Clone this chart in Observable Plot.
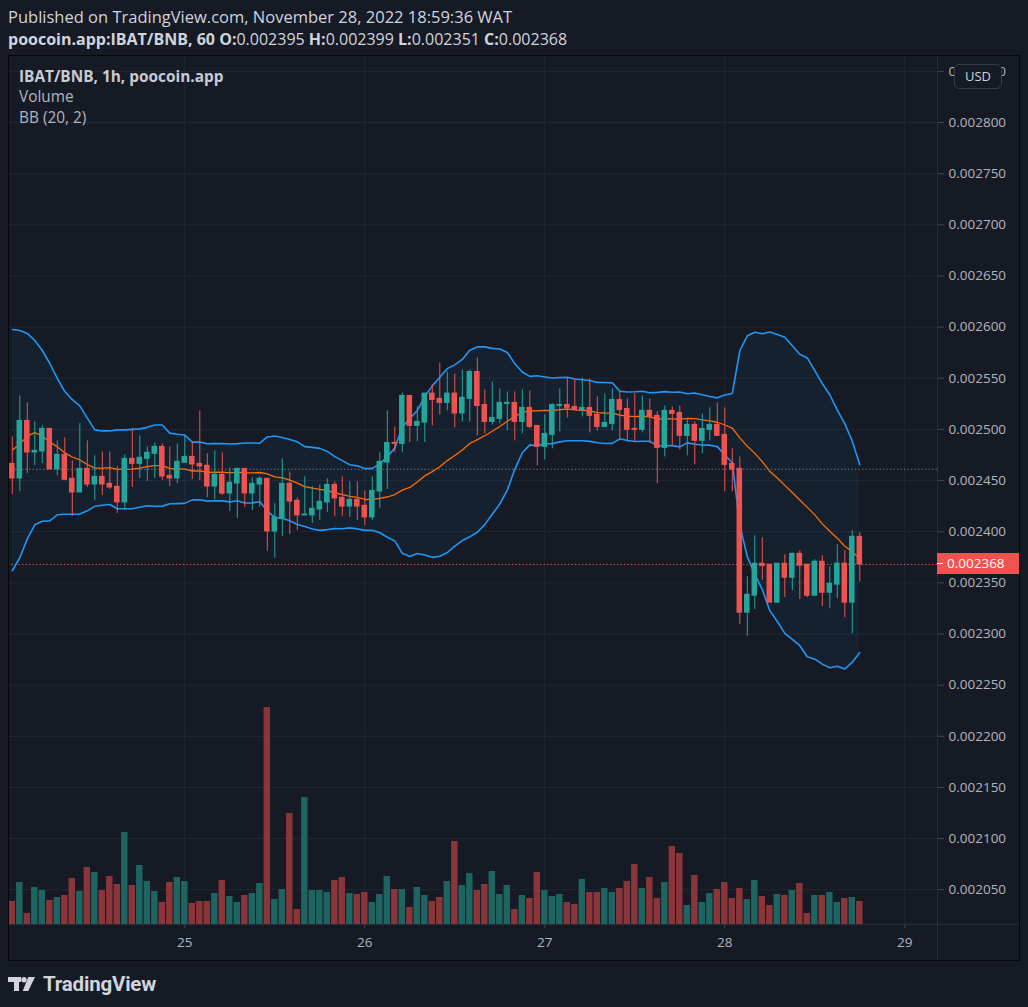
<!DOCTYPE html>
<html>
<head>
<meta charset="utf-8">
<script src="https://cdn.jsdelivr.net/npm/d3@7"></script>
<script src="https://cdn.jsdelivr.net/npm/@observablehq/plot@0.6"></script>
<style>
  html, body { margin: 0; padding: 0; background: #161a25; }
  body { width: 1028px; height: 1007px; position: relative; overflow: hidden; font-family: "Open Sans", sans-serif; color: #d1d4dc; }
  .abs { position: absolute; }
  #hdr1 { left: 8px; top: 6px; font-size: 16.5px; line-height: 21px; white-space: nowrap; }
  #hdr2 { left: 8px; top: 29px; font-size: 16px; line-height: 21px; white-space: nowrap; }
  #hdr2 b { font-weight: 700; }
  #chart { left: 0; top: 55px; width: 1028px; height: 905px; }
  #chart svg { position: absolute; left: 0; top: 0; }
  #frame { left: 8px; top: 55px; width: 1012px; height: 906px; box-sizing: border-box; border: 1px solid #06070b; pointer-events: none; }
  #vsep { left: 937px; top: 55px; width: 1px; height: 905px; background: #2a2e39; }
  #hsep { left: 8px; top: 924px; width: 1011px; height: 1px; background: #2a2e39; }
  .leg { left: 19px; font-size: 15.4px; line-height: 20px; color: #b2b5be; white-space: nowrap; }
  #usd { left: 954px; top: 64px; width: 46px; height: 23px; border: 1px solid #363a45; border-radius: 5px; background: #161a25; font-size: 13px; line-height: 23px; text-align: center; color: #d1d4dc; }
  #plabel { left: 937px; width: 82px; height: 21px; background: #ef5350; color: #fff; font-size: 13.5px; line-height: 21px; box-sizing: border-box; padding-left: 10px; }
  #plabel i { position: absolute; left: 0; top: 10px; width: 6px; height: 1px; background: #fff; }
  #logo { left: 8px; top: 972px; height: 24px; display: flex; align-items: center; }
  #logo span { font-family: Roboto, sans-serif; font-weight: 700; font-size: 20.5px; color: #d1d4dc; margin-left: 7px; letter-spacing: -0.2px; }
</style>
</head>
<body>
<div id="hdr1" class="abs">Published on TradingView.com, November 28, 2022 18:59:36 WAT</div>
<div id="hdr2" class="abs"><b>poocoin.app:IBAT/BNB, 60 O:</b>0.002395 <b>H:</b>0.002399 <b>L:</b>0.002351 <b>C:</b>0.002368</div>
<div id="chart" class="abs"></div>
<div id="vsep" class="abs"></div>
<div id="hsep" class="abs"></div>
<div id="frame" class="abs"></div>
<div class="abs leg" style="top:67px;font-weight:700;color:#c9cbd2">IBAT/BNB, 1h, poocoin.app</div>
<div class="abs leg" style="top:87px">Volume</div>
<div class="abs leg" style="top:108px">BB (20, 2)</div>
<div id="usd" class="abs">USD</div>
<div id="plabel" class="abs"><i></i><span id="ptext"></span></div>
<div id="logo" class="abs">
  <svg width="28" height="16" viewBox="0 0 28 16">
    <path d="M0 1h13v5H11v9H6V6H0z" fill="#d1d4dc"/>
    <circle cx="16" cy="3.7" r="2.7" fill="#d1d4dc"/>
    <path d="M20.3 1H27L20.3 15H14.7z" fill="#d1d4dc"/>
  </svg>
  <span>TradingView</span>
</div>
<script>
// ---- Data (prices in 1e-6 BNB, hourly candles from Nov 24 01:00) ----
const firstCandle = Date.UTC(2022, 10, 24, 1);
const open = [2466.3,2452.0,2508.3,2477.4,2478.4,2500.5,2460.8,2475.1,2451.7,2438.3,
  2461.4,2446.1,2453.6,2446.8,2443.9,2428.6,2471.2,2466.3,2471.2,2476.1,
  2482.9,2454.6,2452.0,2467.3,2473.1,2466.3,2464.4,2444.2,2455.6,2437.3,
  2447.1,2461.4,2437.3,2446.1,2451.7,2400.2,2412.9,2446.8,2430.2,2415.9,
  2415.9,2421.7,2428.6,2445.8,2433.1,2424.6,2431.2,2425.3,2413.9,2439.3,
  2467.6,2486.8,2485.8,2532.7,2503.4,2506.7,2535.0,2529.8,2525.9,2535.0,
  2515.5,2529.8,2556.1,2523.9,2507.3,2510.3,2524.9,2525.9,2507.3,2521.0,
  2503.4,2482.9,2494.6,2522.9,2523.9,2522.0,2519.0,2521.0,2514.2,2502.4,
  2505.4,2528.8,2520.0,2500.5,2499.5,2518.1,2513.2,2481.9,2518.1,2516.1,
  2493.7,2504.4,2488.8,2499.5,2504.4,2494.6,2466.3,2461.4,2320.8,2337.4,
  2368.7,2367.7,2330.6,2368.7,2355.0,2378.4,2367.7,2337.4,2370.6,2340.3,
  2348.2,2368.7,2330.6,2395.0];
const high = [2492.7,2532.7,2525.9,2507.3,2503.4,2500.5,2488.8,2491.7,2469.2,2505.4,
  2488.8,2474.1,2478.0,2478.0,2463.4,2475.1,2500.5,2493.7,2482.9,2486.8,
  2485.8,2482.9,2485.8,2493.7,2487.8,2518.1,2476.1,2479.0,2477.1,2462.4,
  2461.4,2461.4,2452.6,2453.6,2451.7,2427.3,2471.2,2458.5,2433.1,2453.6,
  2443.9,2445.8,2451.7,2448.7,2453.6,2448.7,2448.7,2439.9,2453.6,2477.1,
  2518.1,2502.4,2535.6,2532.7,2522.0,2535.0,2543.5,2564.9,2556.1,2554.2,
  2558.1,2558.1,2569.8,2538.6,2546.4,2539.5,2536.6,2536.6,2538.6,2537.6,
  2503.4,2514.2,2524.9,2539.5,2550.3,2549.3,2550.3,2549.3,2531.7,2534.7,
  2539.5,2537.6,2529.8,2534.7,2532.7,2529.8,2517.1,2522.9,2522.0,2522.9,
  2510.3,2507.3,2515.1,2521.0,2525.9,2521.0,2481.0,2473.1,2356.0,2396.0,
  2394.0,2367.7,2368.7,2377.4,2378.4,2381.4,2367.7,2372.6,2376.5,2365.7,
  2387.2,2381.4,2400.9,2399.0];
const low = [2436.4,2439.3,2456.9,2464.7,2466.6,2460.8,2454.6,2450.0,2414.9,2438.3,
  2443.2,2430.5,2435.4,2441.2,2417.8,2420.7,2443.2,2452.0,2449.1,2452.0,
  2450.0,2444.2,2447.1,2467.3,2451.0,2450.0,2433.4,2431.2,2435.4,2419.8,
  2412.9,2423.7,2420.7,2423.7,2380.7,2373.9,2395.4,2397.3,2401.2,2415.9,
  2408.0,2411.0,2418.8,2414.9,2414.9,2413.9,2411.0,2406.1,2411.0,2422.7,
  2441.2,2477.1,2477.1,2487.1,2488.1,2487.1,2503.4,2514.2,2518.1,2501.5,
  2507.3,2507.3,2493.7,2495.6,2504.4,2505.4,2498.5,2488.8,2495.6,2500.5,
  2464.4,2470.2,2481.0,2497.6,2511.2,2519.0,2512.2,2496.6,2498.5,2501.5,
  2498.5,2488.8,2487.8,2487.8,2496.6,2485.8,2446.8,2473.1,2483.9,2480.0,
  2474.1,2465.3,2476.1,2488.8,2493.7,2439.0,2439.0,2309.1,2297.4,2323.7,
  2352.1,2330.6,2330.6,2335.5,2342.3,2333.5,2335.5,2337.4,2326.7,2324.7,
  2334.5,2315.9,2300.3,2351.0];
const close = [2452.0,2508.3,2477.4,2479.0,2500.5,2460.8,2475.1,2450.7,2438.3,2461.4,
  2446.1,2453.6,2446.1,2443.2,2428.6,2471.2,2466.3,2472.2,2477.1,2482.9,
  2453.9,2452.0,2468.3,2473.1,2465.7,2463.7,2444.2,2455.6,2437.3,2447.8,
  2461.4,2437.3,2446.8,2451.7,2400.2,2413.9,2446.8,2429.5,2415.9,2416.8,
  2422.4,2429.2,2445.8,2432.5,2424.6,2431.2,2424.6,2413.9,2439.9,2468.3,
  2486.8,2485.8,2532.7,2503.4,2507.3,2535.0,2528.8,2525.9,2535.0,2515.5,
  2530.8,2556.1,2522.9,2507.3,2511.2,2525.9,2525.9,2507.3,2521.0,2502.4,
  2482.9,2495.6,2523.9,2523.9,2521.0,2519.0,2521.0,2513.2,2502.4,2506.3,
  2528.8,2519.0,2499.5,2499.5,2518.1,2512.2,2481.9,2518.1,2515.1,2493.7,
  2504.4,2488.8,2500.5,2504.4,2493.7,2465.3,2460.5,2320.8,2338.4,2368.7,
  2366.4,2330.6,2368.7,2355.0,2378.4,2366.7,2337.4,2370.6,2340.3,2349.1,
  2368.7,2330.6,2395.0,2368.0];
// relative volume (unknown units)
const volume = [69,126,33,111,102,72,81,87,138,99,171,156,102,144,120,276,117,177,129,99,
  66,126,141,129,63,69,69,93,132,84,66,87,93,123,651,75,105,333,45,381,
  102,102,96,132,141,93,90,96,66,90,144,105,105,51,111,87,69,81,129,249,
  117,153,102,120,159,90,117,45,87,78,156,102,84,90,66,60,135,96,96,108,
  96,108,129,180,108,141,78,126,234,213,57,147,66,93,105,126,78,108,75,132,
  84,57,90,87,102,123,33,87,87,96,66,78,81,69];
// Bollinger Bands (20,2) for the first 19 bars (needs earlier history)
const bbUpperHead = [2597.6,2596.7,2593.8,2586.9,2577.1,2564.4,2549.8,2537,2529,2523,2511,2499.5,2498.5,2498.5,2499.5,2499.5,2500,2500.5,2502];
const bbLowerHead = [2361.8,2374.5,2393,2406.7,2410.2,2410.6,2416.5,2417,2417,2417.2,2420.4,2424.8,2425.8,2426.6,2422.4,2422.4,2422.4,2423.8,2425.3];
const refLevel = 2461;       // grey dotted level
const lastPrice = 2368;      // last close
const priceTicks = [2050,2100,2150,2200,2250,2300,2350,2400,2450,2500,2550,2600,2650,2700,2750,2800,2850];
const dayTicks = [25, 26, 27, 28, 29];

// ---- build tables ----
const U = 1e-6, H = 3600e3;
const GREEN = "#26a69a", RED = "#ef5350";
const candles = open.map((o, i) => ({
  time: new Date(firstCandle + i * H),
  open: o * U, high: high[i] * U, low: low[i] * U, close: close[i] * U,
  vol: volume[i], up: close[i] >= o
}));
const bb = candles.map((d, i) => {
  if (i < 19) {
    const u = bbUpperHead[i] * U, l = bbLowerHead[i] * U;
    return {time: d.time, upper: u, lower: l, basis: (u + l) / 2};
  }
  const w = close.slice(i - 19, i + 1).map(v => v * U);
  const m = d3.mean(w), sd = Math.sqrt(d3.mean(w, v => (v - m) ** 2));
  return {time: d.time, upper: m + 2 * sd, lower: m - 2 * sd, basis: m};
});
const days = dayTicks.map(d => new Date(Date.UTC(2022, 10, d)));
const yT = priceTicks.map(v => v * U);

// ---- layout ----
const W = 1028, HT = 905;
const day25 = Date.UTC(2022, 10, 25);
const xDomain = [new Date(day25 - 23.507 * H), new Date(day25 + 100.36 * H)];
const yDomain = [0.0020160, 0.0028655];
const common = {width: W, height: HT, marginLeft: 8, marginRight: 91, marginTop: 0, marginBottom: 36,
  x: {type: "utc", domain: xDomain}};

const pricePlot = Plot.plot({
  ...common,
  style: {background: "#161a25", color: "#b2b5be", fontFamily: "'Open Sans', sans-serif", fontSize: "13px", overflow: "visible"},
  y: {domain: yDomain},
  marks: [
    Plot.ruleY(yT, {stroke: "#232733", strokeWidth: 1}),
    Plot.ruleX(days, {stroke: "#232733", strokeWidth: 1}),
    Plot.areaY(bb, {x: "time", y1: "lower", y2: "upper", fill: "#2196f3", fillOpacity: 0.06}),
    Plot.lineY(bb, {x: "time", y: "upper", stroke: "#2196f3", strokeWidth: 1.6}),
    Plot.lineY(bb, {x: "time", y: "lower", stroke: "#2196f3", strokeWidth: 1.6}),
    Plot.lineY(bb, {x: "time", y: "basis", stroke: "#ff6d00", strokeWidth: 1.3}),
    Plot.ruleY([refLevel * U], {stroke: "#787b86", strokeWidth: 1, strokeDasharray: "1.3,2.2"}),
    Plot.ruleY([lastPrice * U], {stroke: "#ef5350", strokeWidth: 1, strokeDasharray: "1.3,2.2"}),
    Plot.ruleX(candles, {x: "time", y1: "low", y2: "high", stroke: d => d.up ? GREEN : RED, strokeWidth: 1}),
    Plot.rect(candles, {
      x1: d => new Date(+d.time - 0.37 * H), x2: d => new Date(+d.time + 0.37 * H),
      y1: "open", y2: "close", fill: d => d.up ? GREEN : RED, insetTop: -0.5, insetBottom: -0.5
    }),
    Plot.axisY(yT, {anchor: "right", tickSize: 6, tickPadding: 5, stroke: "#434651", fill: "#b2b5be",
      tickFormat: d3.format(".6f"), label: null, fontSize: 13.5}),
    Plot.axisX(days, {anchor: "bottom", tickSize: 4, tickPadding: 9, stroke: "#434651", fill: "#b2b5be",
      tickFormat: d => String(d.getUTCDate()), label: null, fontSize: 13.5})
  ]
});

const volPlot = Plot.plot({
  ...common,
  style: {background: "transparent", overflow: "visible"},
  x: {...common.x, axis: null},
  y: {domain: [0, 2607], axis: null},
  marks: [
    Plot.rect(candles, {
      x1: d => new Date(+d.time - 0.43 * H), x2: d => new Date(+d.time + 0.43 * H),
      y1: 0, y2: "vol", fill: d => d.up ? "#1e6461" : "#8a3539"
    })
  ]
});

const chart = document.getElementById("chart");
chart.appendChild(pricePlot);
chart.appendChild(volPlot);

// last-price label placed through the price scale
const yPix = pricePlot.scale("y").apply(lastPrice * U);
const pl = document.getElementById("plabel");
pl.style.top = (55 + yPix - 10.5) + "px";
document.getElementById("ptext").textContent = d3.format(".6f")(lastPrice * U);
</script>
</body>
</html>
